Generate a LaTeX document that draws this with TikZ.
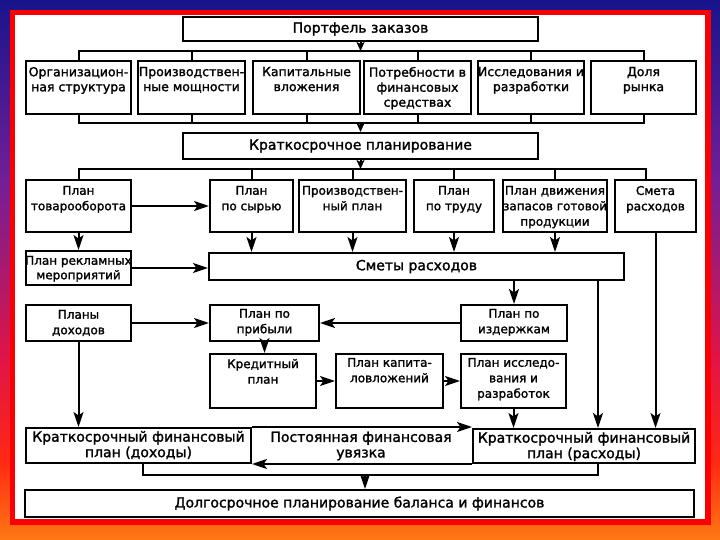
\documentclass[tikz,border=0pt]{standalone}
\usepackage{fontspec}
\setmainfont{DejaVu Sans}[FakeBold=1.6]
\usetikzlibrary{arrows.meta}
\definecolor{bgA}{RGB}{25,20,140}
\definecolor{bgB}{RGB}{115,30,150}
\definecolor{bgC}{RGB}{225,20,70}
\definecolor{bgD}{RGB}{255,40,20}
\definecolor{bgE}{RGB}{255,120,20}
\definecolor{frameRed}{RGB}{250,0,0}
\newcommand\hfont{\fontsize{14}{15.5}\selectfont}
\newcommand\rfont{\fontsize{12.5}{15}\selectfont}
\newcommand\tfont{\fontsize{12}{15.5}\selectfont}
\newcommand\sfontr{\fontsize{12}{14.5}\selectfont}
\newcommand\cln[1]{\makebox[\linewidth][c]{#1}}
\tikzset{
  box/.style={draw, line width=2pt, fill=white},
  conn/.style={line width=2pt},
  arr/.style={conn, -{Stealth[length=15pt,width=10pt,inset=3.5pt]}},
  sarr/.style={conn, -{Stealth[length=9pt,width=8pt,inset=2pt]}},
}
% centred box: name x1 y1 x2 y2 text
\newcommand\cbx[6]{\node[box, inner sep=0pt, minimum width={(#4-#2)*1pt}, minimum height={(#5-#3)*1pt}, font=\hfont] (#1) at ({(#2+#4)/2},{(#3+#5)/2}) {#6};}
% top-aligned box: name x1 y1 x2 y2 font offset text
\newcommand\tbx[8]{\node[box, inner sep=0pt, anchor=north west] (#1) at (#2,#3) {\parbox[c][\dimexpr#5pt-#3pt\relax][t]{\dimexpr#4pt-#2pt\relax}{\centering#6\vspace*{#7pt}#8\par}};}
\begin{document}
\begin{tikzpicture}[x=1pt,y=-1pt]
\useasboundingbox (0,0) rectangle (720,540);
% background
\shade[top color=bgA, bottom color=bgB] (0,0) rectangle (720,181);
\shade[top color=bgB, bottom color=bgC] (0,180) rectangle (720,361);
\shade[top color=bgC, bottom color=bgD] (0,360) rectangle (720,461);
\shade[top color=bgD, bottom color=bgE] (0,460) rectangle (720,540);
\fill[frameRed] (10,10) rectangle (711,525);
\fill[white] (15,15) rectangle (705,519);

% top
\cbx{p}{183}{17}{538}{41}{Портфель заказов}
\tbx{o1}{25}{60}{130}{113}{\rfont}{6}{\cln{Организацион-}\\\cln{ная структура}}
\tbx{o2}{137}{60}{244}{113}{\rfont}{6}{\cln{Производствен-}\\\cln{ные мощности}}
\tbx{o3}{252}{60}{359}{113}{\rfont}{6}{Капитальные\\вложения}
\tbx{o4}{363}{60}{470}{113}{\rfont}{6}{Потребности в\\финансовых\\средствах}
\tbx{o5}{477}{60}{583}{113}{\rfont}{6}{\cln{Исследования и}\\разработки}
\tbx{o6}{590}{60}{695}{113}{\rfont}{6}{Доля\\рынка}
\cbx{k}{183}{133}{538}{159}{Краткосрочное планирование}

% row 2
\tbx{A}{25}{179}{130}{231}{\tfont}{6}{План\\товарооборота}
\tbx{B}{209}{179}{292}{231}{\tfont}{6}{План\\по сырью}
\tbx{C}{298}{179}{405}{231}{\tfont}{6}{\cln{Производствен-}\\ный план}
\tbx{D}{413}{179}{493}{231}{\tfont}{6}{План\\по труду}
\tbx{E}{502}{179}{606}{231}{\tfont}{6}{\cln{План движения}\\\cln{запасов готовой}\\продукции}
\tbx{F}{614}{179}{695}{231}{\tfont}{6}{Смета\\расходов}
\tbx{R}{25}{250}{130}{284}{\sfontr}{5}{\cln{План рекламных}\\\cln{мероприятий}}
\cbx{S}{209}{253}{624}{280}{Сметы расходов}

% row 4-5
\tbx{PD}{25}{304}{130}{340}{\tfont}{5}{Планы\\доходов}
\tbx{PP}{209}{304}{318}{340}{\tfont}{4}{План по\\прибыли}
\tbx{I}{460}{304}{566}{340}{\tfont}{4}{План по\\издержкам}
\tbx{KP}{209}{353}{315}{407}{\tfont}{5}{Кредитный\\план}
\tbx{KV}{335}{353}{442}{407}{\tfont}{4}{План капита-\\ловложений}
\tbx{IR}{460}{353}{565}{407}{\tfont}{4}{План исследо-\\вания и\\разработок}

% bottom
\tbx{KD}{25}{427}{250}{462}{\hfont}{3}{\cln{Краткосрочный финансовый}\\план (доходы)}
\tbx{KR}{472}{428}{694}{462}{\hfont}{3}{\cln{Краткосрочный финансовый}\\план (расходы)}
\node[font=\hfont, align=center, inner sep=0pt] (pfu) at (361,446) {Постоянная финансовая\\увязка};
\cbx{L}{25}{490}{694}{517}{Долгосрочное планирование баланса и финансов}

% buses
\coordinate (bus1) at (360,51);
\coordinate (bus2) at (360,123);
\coordinate (bus3) at (360,169);
\draw[sarr] (p.south) -- (p.south |- bus1);
\draw[conn] (o1.north) -- (o1.north |- bus1) -- (o6.north |- bus1) -- (o6.north);
\foreach \n in {o2,o3,o4,o5} \draw[conn] (\n.north) -- (\n.north |- bus1);
\draw[conn] (o1.south) -- (o1.south |- bus2) -- (o6.south |- bus2) -- (o6.south);
\foreach \n in {o2,o3,o4,o5} \draw[conn] (\n.south) -- (\n.south |- bus2);
\draw[sarr] (k.north |- bus2) -- (k.north);
\draw[sarr] (k.south) -- (k.south |- bus3);
\coordinate (ftick) at (646,169);
\draw[conn] (A.north) -- (A.north |- bus3) -- (ftick) -- (ftick |- F.north);
\foreach \n in {B,C,D,E} \draw[conn] (\n.north) -- (\n.north |- bus3);

% row 2 arrows
\draw[arr] (A.east) -- (B.west);
\draw[arr] (A.south) -- (R.north);
\draw[arr] (R.east) -- (R.east -| S.west);
\foreach \n in {B,C,D,E} \draw[arr] (\n.south) -- (\n.south |- S.north);
\draw[arr] (F.south) -- (F.south |- KR.north);
\draw[arr] (I.north |- S.south) -- (I.north);
\coordinate (vx) at (598,0);
\draw[arr] (S.south -| vx) -- (KR.north -| vx);

% middle
\draw[arr] (PD.east) -- (PD.east -| PP.west);
\draw[arr] (I.west) -- (I.west -| PP.east);
\draw[arr] (PP.south) -- (PP.south |- KP.north);
\draw[arr] (KP.east) -- (KP.east -| KV.west);
\draw[arr] (KV.east) -- (KV.east -| IR.west);
\draw[arr] (IR.south) -- (IR.south |- KR.north);
\draw[arr] (PD.south) -- (PD.south |- KD.north);

% bottom links
\draw[arr] (KD.north east) -- (KD.north east -| KR.west);
\draw[arr] (KR.south west) -- (KR.south west -| KD.east);
\coordinate (loopL) at (143,475);
\coordinate (loopR) at (598,475);
\draw[conn] (KD.south -| loopL) -- (loopL) -- (loopR) -- (loopR |- KR.south);
\coordinate (ldown) at (365,475);
\draw[arr] (ldown) -- (ldown |- L.north);
\end{tikzpicture}
\end{document}
